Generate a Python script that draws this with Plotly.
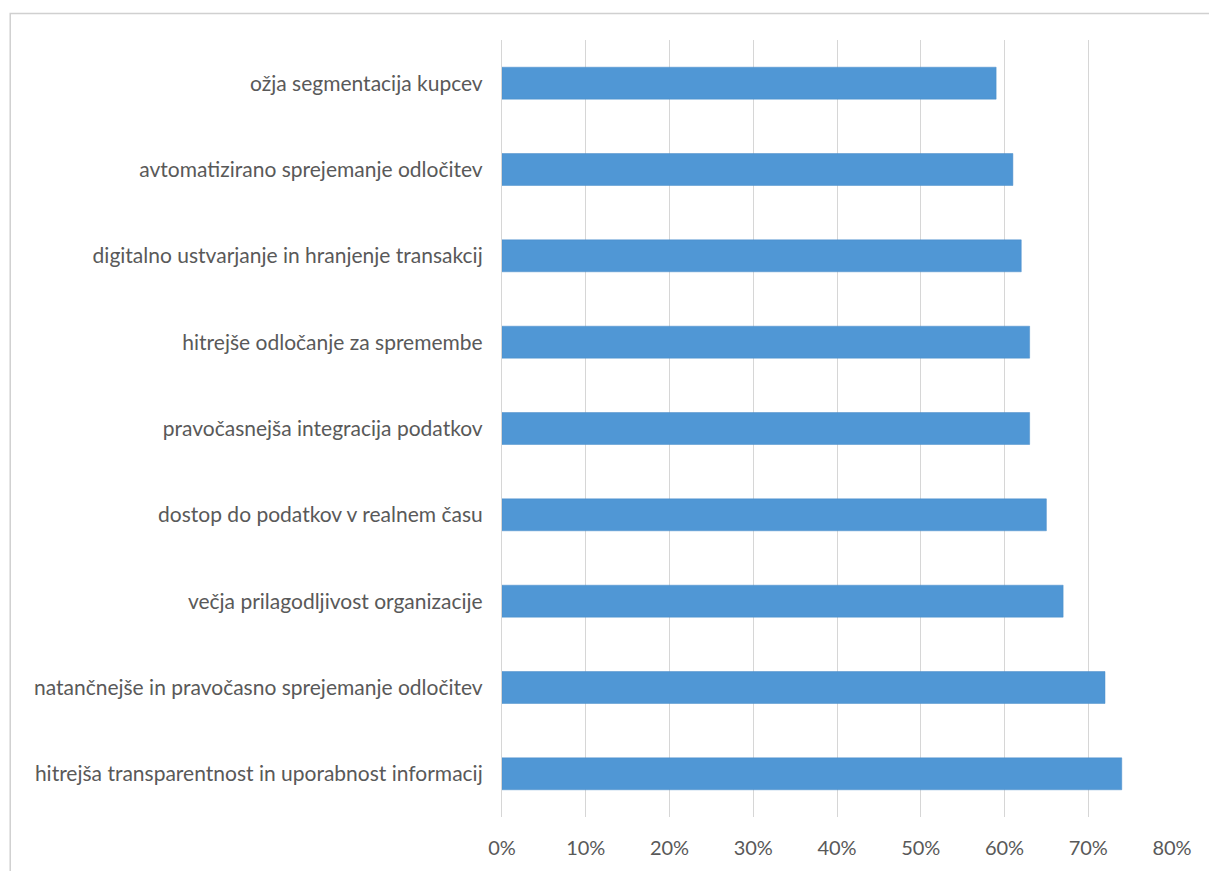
import plotly.graph_objects as go

categories = [
    "ožja segmentacija kupcev",
    "avtomatizirano sprejemanje odločitev",
    "digitalno ustvarjanje in hranjenje transakcij",
    "hitrejše odločanje za spremembe",
    "pravočasnejša integracija podatkov",
    "dostop do podatkov v realnem času",
    "večja prilagodljivost organizacije",
    "natančnejše in pravočasno sprejemanje odločitev",
    "hitrejša transparentnost in uporabnost informacij",
]
values = [0.59, 0.61, 0.62, 0.63, 0.63, 0.65, 0.67, 0.72, 0.74]
tick_vals = [0, 0.1, 0.2, 0.3, 0.4, 0.5, 0.6, 0.7, 0.8]
tick_text = ["0%", "10%", "20%", "30%", "40%", "50%", "60%", "70%", "80%"]

font_family = "Lato, 'Open Sans', sans-serif"
text_color = "#595959"

fig = go.Figure(
    go.Bar(
        x=values,
        y=categories,
        orientation="h",
        marker=dict(color="#5097d5", line=dict(color="#4a8cc8", width=0.5)),
        hoverinfo="x+y",
    )
)

fig.update_layout(
    width=1209,
    height=871,
    margin=dict(l=502, r=37, t=40, b=50),
    paper_bgcolor="white",
    plot_bgcolor="white",
    bargap=0.63,
    showlegend=False,
    font=dict(family=font_family, color=text_color, size=21),
    shapes=[
        dict(
            type="rect", xref="paper", yref="paper",
            x0=-0.734, x1=1.2, y0=-0.2, y1=1.034,
            line=dict(color="#d0d0d0", width=1.5),
            fillcolor="rgba(0,0,0,0)", layer="below",
        )
    ],
)

fig.update_xaxes(
    range=[0, 0.8],
    tickvals=tick_vals,
    ticktext=tick_text,
    showgrid=True,
    gridcolor="#d6d6d6",
    gridwidth=1.2,
    zeroline=False,
    showline=False,
    ticks="",
    tickfont=dict(size=20, color=text_color),
    ticklabelstandoff=17,
    fixedrange=True,
)

fig.update_yaxes(
    autorange="reversed",
    showgrid=False,
    showline=True,
    linecolor="#d6d6d6",
    linewidth=1.2,
    ticks="",
    tickfont=dict(size=21, color=text_color),
    ticklabelstandoff=14,
    fixedrange=True,
)

fig.write_html("out.html")
